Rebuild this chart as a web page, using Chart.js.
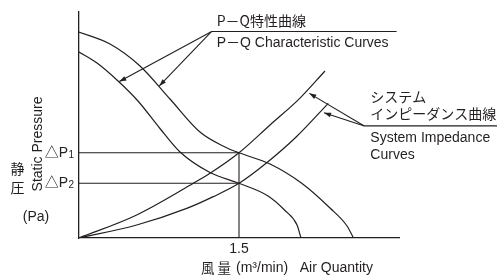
<!DOCTYPE html>
<html>
<head>
<meta charset="utf-8">
<script src="https://cdn.jsdelivr.net/npm/chart.js@4/dist/chart.umd.min.js"></script>
<style>
  html, body { margin: 0; padding: 0; background: #ffffff; }
  canvas { display: block; }
</style>
</head>
<body>
<canvas id="c" width="497" height="275"></canvas>
<script>
// ---- data (air quantity in m3/min, static pressure in arbitrary units) ----
const pqHighX = [0, 0.291, 0.572, 0.853, 1.134, 1.369, 1.5, 1.791, 2.091, 2.353, 2.513, 2.573];
const pqHighY = [91.15, 85.84, 76.11, 61.50, 46.90, 40.27, 37.7, 32.74, 24.12, 13.27, 5.31, 0];
const pqLowX  = [0, 0.169, 0.366, 0.553, 0.759, 0.947, 1.228, 1.5, 1.772, 1.931, 2.044, 2.081];
const pqLowY  = [82.30, 77.43, 69.47, 60.62, 48.45, 38.05, 28.98, 24.2, 18.58, 12.17, 5.75, 0];
const sysHighX = [0, 0.541, 1.072, 1.228, 1.5, 1.791, 2.072, 2.306];
const sysHighY = [0, 10.2, 24.2, 28.6, 37.7, 50.0, 61.9, 73.9];
const sysLowX  = [0, 0.541, 1.010, 1.259, 1.5, 1.760, 2.038, 2.337];
const sysLowY  = [0, 5.75, 13.1, 18.3, 24.2, 33.3, 44.8, 59.6];
const opQ = 1.5;          // operating air quantity
const dP1 = 37.7;         // ΔP1
const dP2 = 24.2;         // ΔP2
const xTickLabels = ['1.5'];
const xMax = 3, yMax = 100;

const INK = '#231f20';
const LAT = '"Liberation Sans", Arial, Helvetica, "Noto Sans CJK JP", sans-serif';
const CJK = '"Noto Sans CJK JP", "Liberation Sans", sans-serif';

function pts(xs, ys) { return xs.map((x, i) => ({ x: x, y: ys[i] })); }
function curve(xs, ys) {
  return { data: pts(xs, ys), showLine: true, borderColor: INK, borderWidth: 1.2,
           pointRadius: 0, cubicInterpolationMode: 'monotone', fill: false };
}
function straight(data) {
  return { data: data, showLine: true, borderColor: INK, borderWidth: 1.1,
           pointRadius: 0, tension: 0, fill: false };
}

const datasets = [
  curve(pqHighX, pqHighY),
  curve(pqLowX, pqLowY),
  curve(sysHighX, sysHighY),
  curve(sysLowX, sysLowY),
  straight([{ x: 0, y: dP1 }, { x: opQ, y: dP1 }]),
  straight([{ x: 0, y: dP2 }, { x: opQ, y: dP2 }]),
  straight([{ x: opQ, y: 0 }, { x: opQ, y: dP1 }])
];

// annotation leader lines (data coordinates)
const pqLabelAnchor = { x: 1.244, y: 91.4 };
const pqLabelLineEnd = { x: 2.978, y: 91.4 };
const pqArrowTips = [{ x: 0.378, y: 69.2 }, { x: 0.753, y: 67.3 }];
const sysLabelAnchor = { x: 2.675, y: 49.6 };
const sysLabelLineEnd = { x: 3.92, y: 49.6 };
const sysArrowTips = [{ x: 2.159, y: 64.0 }, { x: 2.297, y: 55.4 }];

function P(chart, p) {
  return [chart.scales.x.getPixelForValue(p.x), chart.scales.y.getPixelForValue(p.y)];
}
function arrow(ctx, a, b) {
  ctx.beginPath(); ctx.moveTo(a[0], a[1]); ctx.lineTo(b[0], b[1]); ctx.stroke();
  const ang = Math.atan2(b[1] - a[1], b[0] - a[0]);
  const L = 7, W = 2.4;
  ctx.beginPath();
  ctx.moveTo(b[0], b[1]);
  ctx.lineTo(b[0] - L * Math.cos(ang) + W * Math.sin(ang), b[1] - L * Math.sin(ang) - W * Math.cos(ang));
  ctx.lineTo(b[0] - L * Math.cos(ang) - W * Math.sin(ang), b[1] - L * Math.sin(ang) + W * Math.cos(ang));
  ctx.closePath(); ctx.fill();
}

const annot = {
  id: 'annot',
  afterDraw(chart) {
    const ctx = chart.ctx;
    ctx.save();
    ctx.strokeStyle = INK; ctx.fillStyle = INK; ctx.lineWidth = 1.1;
    // P-Q leader
    const a = P(chart, pqLabelAnchor), e = P(chart, pqLabelLineEnd);
    ctx.beginPath(); ctx.moveTo(a[0], a[1]); ctx.lineTo(e[0], e[1]); ctx.stroke();
    pqArrowTips.forEach(t => arrow(ctx, a, P(chart, t)));
    // system leader
    const s = P(chart, sysLabelAnchor), se = P(chart, sysLabelLineEnd);
    ctx.beginPath(); ctx.moveTo(s[0], s[1]); ctx.lineTo(se[0], se[1]); ctx.stroke();
    sysArrowTips.forEach(t => arrow(ctx, s, P(chart, t)));

    ctx.textBaseline = 'middle';
    ctx.textAlign = 'left';
    ctx.font = '14px ' + CJK;
    ctx.fillText('P－Q特性曲線', a[0] + 5, a[1] - 11);
    ctx.font = '14px ' + LAT;
    ctx.fillText('P－Q Characteristic Curves', a[0] + 5, a[1] + 12);
    ctx.font = '14px ' + CJK;
    ctx.fillText('システム', s[0] + 6, s[1] - 29);
    ctx.fillText('インピーダンス曲線', s[0] + 6, s[1] - 12);
    ctx.font = '14px ' + LAT;
    ctx.fillText('System Impedance', s[0] + 6, s[1] + 12);
    ctx.fillText('Curves', s[0] + 6, s[1] + 29);

    // x tick label and axis title
    const xs = chart.scales.x, ys = chart.scales.y;
    ctx.textAlign = 'center';
    ctx.font = '14px ' + LAT;
    ctx.fillText(xTickLabels[0], xs.getPixelForValue(opQ), ys.bottom + 11);
    ctx.textAlign = 'left';
    ctx.font = '13.5px ' + CJK;
    ctx.fillText('風 量', 201, 268);
    ctx.font = '14px ' + LAT;
    ctx.fillText('(m³/min)   Air Quantity', 236, 268);

    // y labels
    ctx.textAlign = 'right';
    [[dP1, '1'], [dP2, '2']].forEach(([v, sub]) => {
      const y = ys.getPixelForValue(v);
      ctx.font = '10px ' + LAT;
      ctx.fillText(sub, 74, y + 2);
      ctx.font = '14px ' + LAT;
      ctx.fillText('△P', 68, y);
    });
    ctx.textAlign = 'center';
    ctx.font = '14px ' + LAT;
    ctx.fillText('(Pa)', 36, 217);
    ctx.font = '14px ' + CJK;
    ctx.fillText('静', 17.5, 169);
    ctx.fillText('圧', 17.5, 188);
    ctx.save();
    ctx.translate(38, 144);
    ctx.rotate(-Math.PI / 2);
    ctx.font = '14px ' + LAT;
    ctx.fillText('Static Pressure', 0, 0);
    ctx.restore();
    ctx.restore();
  }
};

new Chart(document.getElementById('c'), {
  type: 'scatter',
  data: { datasets: datasets },
  options: {
    responsive: false,
    animation: false,
    events: [],
    layout: { padding: { left: 79, right: 98, top: 12, bottom: 37 } },
    plugins: { legend: { display: false }, tooltip: { enabled: false } },
    scales: {
      x: { type: 'linear', min: 0, max: xMax,
           grid: { display: false, drawTicks: false },
           ticks: { display: false },
           border: { display: true, color: INK, width: 1.3 } },
      y: { type: 'linear', min: 0, max: yMax,
           grid: { display: false, drawTicks: false },
           ticks: { display: false },
           border: { display: true, color: INK, width: 1.3 } }
    }
  },
  plugins: [annot]
});
</script>
</body>
</html>
